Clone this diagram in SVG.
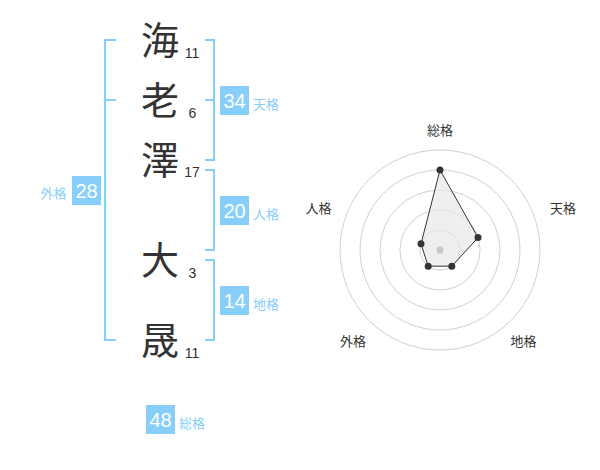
<svg xmlns="http://www.w3.org/2000/svg" width="600" height="470" viewBox="0 0 600 470">
<style>
.k{font-family:"Noto Sans CJK JP",sans-serif;font-size:38px;fill:#333;text-anchor:middle}
.n{font-family:"Liberation Sans",Arial,sans-serif;font-size:14px;fill:#333;text-anchor:middle}
.br{fill:none;stroke:#87cefa;stroke-width:2}
.box{fill:#87cefa}
.bn{font-family:"Liberation Sans",Arial,sans-serif;font-size:20px;fill:#fff;text-anchor:middle}
.lb{font-family:"Noto Sans CJK JP",sans-serif;font-size:13px;fill:#87cefa}
.rl{font-family:"Noto Sans CJK JP",sans-serif;font-size:13px;fill:#333;text-anchor:middle}
.ring{fill:none;stroke:#d0d0d0;stroke-width:1}
.dot{fill:#333}
</style>
<rect width="600" height="470" fill="#fff"/>
<g id="connectors">
<path class="br" d="M116,40 H105 V340 H116 M105,100 H116"/>
<path class="br" d="M205,40 H214 V160 H205 M214,100 H205"/>
<path class="br" d="M205,170 H214 V250 H205"/>
<path class="br" d="M205,260 H214 V340 H205"/>
</g>
<g id="char1"><text class="k" x="160" y="54">海</text><text class="n" x="192" y="57.5">11</text></g>
<g id="char2"><text class="k" x="160" y="114">老</text><text class="n" x="192.5" y="117.5">6</text></g>
<g id="char3"><text class="k" x="160" y="174">澤</text><text class="n" x="192" y="176.5">17</text></g>
<g id="char4"><text class="k" x="160" y="274">大</text><text class="n" x="192.5" y="277.5">3</text></g>
<g id="char5"><text class="k" x="160" y="354">晟</text><text class="n" x="192" y="357.5">11</text></g>
<g id="tenkaku"><rect class="box" x="220" y="86" width="29" height="29"/><text class="bn" x="234.5" y="107.5">34</text><text class="lb" x="253" y="109">天格</text></g>
<g id="jinkaku"><rect class="box" x="220" y="196" width="29" height="29"/><text class="bn" x="234.5" y="217.5">20</text><text class="lb" x="253" y="219">人格</text></g>
<g id="chikaku"><rect class="box" x="220" y="286" width="29" height="29"/><text class="bn" x="234.5" y="307.5">14</text><text class="lb" x="253" y="309">地格</text></g>
<g id="gaikaku"><rect class="box" x="72" y="176" width="29" height="29"/><text class="bn" x="86.5" y="197.5">28</text><text class="lb" x="40.5" y="198">外格</text></g>
<g id="soukaku"><rect class="box" x="146" y="405" width="29" height="29"/><text class="bn" x="160.5" y="426.5">48</text><text class="lb" x="179" y="428">総格</text></g>
<g id="radar">
<circle class="ring" cx="440" cy="250" r="20"/>
<circle class="ring" cx="440" cy="250" r="40"/>
<circle class="ring" cx="440" cy="250" r="60"/>
<circle class="ring" cx="440" cy="250" r="80"/>
<circle class="ring" cx="440" cy="250" r="100"/>
<polygon points="440,170 478,237.6 451.8,266.2 428.2,266.2 421,243.8" fill="#e8e8e8" fill-opacity="0.7" stroke="#333" stroke-width="1"/>
<circle cx="440" cy="250" r="3.5" fill="#c8c8c8"/>
<circle class="dot" cx="440" cy="170" r="3.5"/>
<circle class="dot" cx="478" cy="237.6" r="3.5"/>
<circle class="dot" cx="451.8" cy="266.2" r="3.5"/>
<circle class="dot" cx="428.2" cy="266.2" r="3.5"/>
<circle class="dot" cx="421" cy="243.8" r="3.5"/>
<text class="rl" x="440" y="135">総格</text>
<text class="rl" x="563" y="213">天格</text>
<text class="rl" x="523.5" y="346">地格</text>
<text class="rl" x="353" y="346">外格</text>
<text class="rl" x="318.5" y="213">人格</text>
</g>
</svg>
